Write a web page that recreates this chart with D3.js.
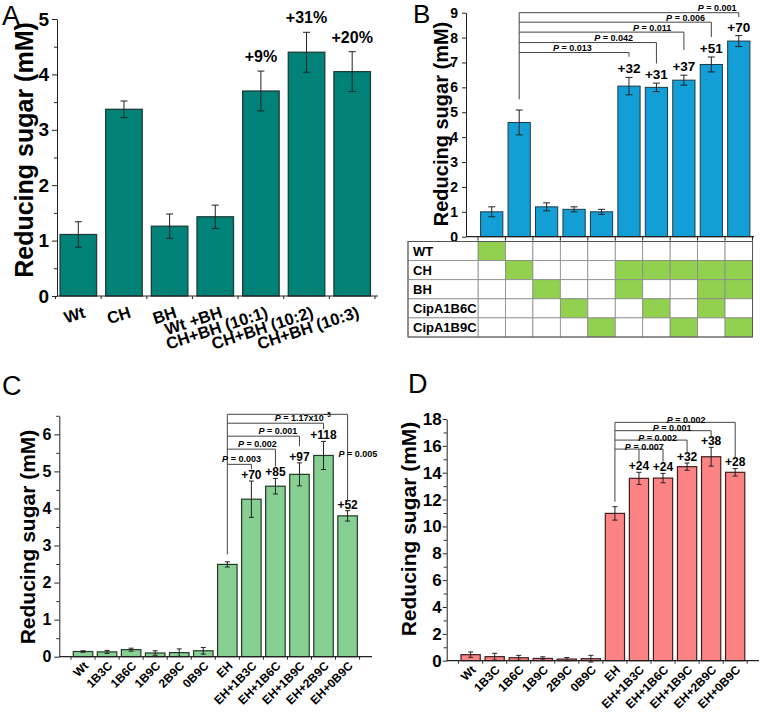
<!DOCTYPE html>
<html><head><meta charset="utf-8">
<script src="https://cdn.jsdelivr.net/npm/d3@7"></script>
<style>body{margin:0;background:#fff} svg{display:block} text{font-family:"Liberation Sans",Arial,sans-serif}</style>
</head><body><svg id="c" width="762" height="713"></svg>
<script>
// ---------- DATA ----------
const catsA = ["Wt","CH","BH","Wt +BH","CH+BH (10:1)","CH+BH (10:2)","CH+BH (10:3)"];
const valsA = [1.11,3.37,1.26,1.43,3.70,4.40,4.05];
const errA  = [0.23,0.15,0.22,0.21,0.36,0.36,0.36];
const pctA  = ["","","","","+9%","+31%","+20%"];
const ticksA = [0,1,2,3,4,5];

const catsB = ["1","2","3","4","5","6","7","8","9","10"];
const valsB = [1.00,4.59,1.20,1.10,1.00,6.05,6.00,6.29,6.92,7.86];
const errB  = [0.20,0.50,0.16,0.10,0.10,0.35,0.17,0.20,0.30,0.22];
const incB  = ["","","","","","+32","+31","+37","+51","+70"];
const ticksB = [0,1,2,3,4,5,6,7,8,9];
const rowsB = ["WT","CH","BH","CipA1B6C","CipA1B9C"];
const tableB = [
  [1,0,0,0,0,0,0,0,0,0],
  [0,1,0,0,0,1,1,1,1,1],
  [0,0,1,0,0,1,0,0,1,1],
  [0,0,0,1,0,0,1,0,1,0],
  [0,0,0,0,1,0,0,1,0,1]
];
const pB = ["0.013","0.042","0.011","0.006","0.001"];

const catsC = ["Wt","1B3C","1B6C","1B9C","2B9C","0B9C","EH","EH+1B3C","EH+1B6C","EH+1B9C","EH+2B9C","EH+0B9C"];
const valsC = [0.14,0.13,0.19,0.10,0.11,0.16,2.49,4.25,4.60,4.92,5.43,3.80];
const errC  = [0.02,0.04,0.04,0.06,0.10,0.09,0.07,0.49,0.21,0.31,0.38,0.14];
const incC  = ["","","","","","","","+70","+85","+97","+118","+52"];
const ticksC = [0,1,2,3,4,5,6];
const pC = ["0.003","0.002","0.001","1.17x10","0.005"];

const catsD = ["Wt","1B3C","1B6C","1B9C","2B9C","0B9C","EH","EH+1B3C","EH+1B6C","EH+1B9C","EH+2B9C","EH+0B9C"];
const valsD = [0.45,0.30,0.22,0.17,0.12,0.15,10.97,13.58,13.60,14.45,15.19,14.03];
const errD  = [0.20,0.25,0.18,0.12,0.12,0.25,0.50,0.45,0.35,0.27,0.70,0.28];
const incD  = ["","","","","","","","+24","+24","+32","+38","+28"];
const ticksD = [0,2,4,6,8,10,12,14,16,18];
const pD = ["0.007","0.002","0.001","0.002"];

// ---------- DRAW ----------
const svg = d3.select("#c");
const FONT = '"Liberation Sans",Arial,sans-serif';

function panel(p){
  const g = svg.append("g");
  const x = d3.scaleBand().domain(p.cats).range(p.xr).paddingInner(p.pi).paddingOuter(p.pi/2);
  const y = d3.scaleLinear().domain(p.yd).range(p.yr);
  const xc = i => x(p.cats[i]) + x.bandwidth()/2;
  g.selectAll("rect.bar").data(p.vals).join("rect")
    .attr("x",(d,i)=>x(p.cats[i])).attr("y",d=>y(d))
    .attr("width",x.bandwidth()).attr("height",d=>y(0)-y(d))
    .attr("fill",p.fill).attr("stroke",p.stroke).attr("stroke-width",p.sw);
  const eb = g.append("g").attr("stroke",p.ecol||"#222").attr("stroke-width",p.ew||1).attr("fill","none");
  p.vals.forEach((v,i)=>{
    const e = p.errs[i], cx = xc(i), cw = p.cap;
    eb.append("path").attr("d",`M${cx},${y(v+e)}V${y(v-e)}M${cx-cw},${y(v+e)}H${cx+cw}M${cx-cw},${y(v-e)}H${cx+cw}`);
  });
  const ax = d3.axisLeft(y).tickValues(p.ticks).tickSize(p.tl).tickSizeOuter(0).tickPadding(p.tp).tickFormat(d3.format("d"));
  const ga = g.append("g").attr("transform",`translate(${p.ax},0)`).call(ax);
  ga.selectAll("text").attr("font-size",p.tf).attr("font-weight","bold").attr("fill","#000").attr("font-family",FONT);
  ga.selectAll("path,line").attr("stroke","#222");
  if(p.minor){
    const am = d3.axisLeft(y).tickValues(p.minor).tickSize(3).tickFormat("");
    const gm = g.append("g").attr("transform",`translate(${p.ax},0)`).call(am);
    gm.select(".domain").remove();
    gm.selectAll("line").attr("stroke","#222");
  }
  g.append("line").attr("x1",p.ax).attr("x2",p.xEnd).attr("y1",y(0)).attr("y2",y(0)).attr("stroke","#222").attr("stroke-width",1.2);
  const half = x.step()*p.pi/2;
  p.cats.forEach((c,i)=>{
    const bx = x(c) - half;
    g.append("line").attr("x1",bx).attr("x2",bx).attr("y1",y(0)).attr("y2",y(0)+p.xtl).attr("stroke","#222");
  });
  { const bx = x(p.cats[p.cats.length-1]) + x.bandwidth() + half;
    g.append("line").attr("x1",bx).attr("x2",bx).attr("y1",y(0)).attr("y2",y(0)+p.xtl).attr("stroke","#222"); }
  g.append("text").attr("transform",`translate(${p.titleX},${p.titleY}) rotate(-90)`)
    .attr("text-anchor","middle").attr("font-size",p.titleF).attr("font-weight","bold").text("Reducing sugar (mM)");
  g.append("text").attr("x",p.lx).attr("y",p.ly).attr("font-size",p.lf).text(p.letter);
  if(p.xlab){
    p.cats.forEach((c,i)=>{
      g.append("text").attr("transform",`translate(${xc(i)+p.xlab.dx},${y(0)+p.xlab.dy}) rotate(${p.xlab.rot})`)
        .attr("text-anchor","end").attr("font-size",p.xlab.f).attr("font-weight","bold").text(c);
    });
  }
  p.inc.forEach((t,i)=>{
    if(!t) return;
    g.append("text").attr("x",xc(i)+(p.incDx||0)).attr("y",y(p.vals[i]+p.errs[i])-p.incOff)
      .attr("text-anchor","middle").attr("font-size",p.incF).attr("font-weight","bold").text(t);
  });
  return {g,x,y,xc};
}

function pText(g,xp,yp,val,fs,sup){
  const t = g.append("text").attr("x",xp).attr("y",yp).attr("text-anchor","middle")
    .attr("font-size",fs).attr("font-weight","bold");
  t.append("tspan").attr("font-style","italic").text("P");
  t.append("tspan").text(" = "+val);
  if(sup) t.append("tspan").attr("dy",-4).attr("font-size",fs*0.7).text(sup);
  return t;
}

function brackets(P, from, fromLow, list, fs, tOff){
  const {g,x,y,xc} = P;
  const st = x.step();
  const top = d3.max(list, b=>b.level);
  const bg = g.append("g").attr("stroke","#444").attr("stroke-width",1).attr("fill","none");
  bg.append("line").attr("x1",xc(from)).attr("x2",xc(from)).attr("y1",y(fromLow)).attr("y2",y(top));
  list.forEach(b=>{
    const last = b.to[b.to.length-1];
    bg.append("line").attr("x1",xc(from)).attr("x2",xc(last)).attr("y1",y(b.level)).attr("y2",y(b.level));
    b.to.forEach(t=>{
      bg.append("line").attr("x1",xc(t)).attr("x2",xc(t)).attr("y1",y(b.level)).attr("y2",y(b.end));
    });
    const tx = xc(0) + b.tx*st;
    const ty = b.ty!==undefined ? y(b.ty) : y(b.level)-tOff;
    pText(g, tx, ty, b.p, fs, b.sup);
  });
}

// Panel A
const PA = panel({cats:catsA, vals:valsA, errs:errA, inc:pctA, xr:[55.5,375], pi:0.2, yd:[0,5], yr:[296,19],
  fill:"#008278", stroke:"#1d3d3a", sw:1.3, cap:3.5, ax:57, xEnd:378, ticks:ticksA, minor:[0.5,1.5,2.5,3.5,4.5],
  tl:5, tp:3, tf:19, xtl:3, titleX:33, titleY:150, titleF:25, lx:2, ly:25, lf:27, letter:"A",
  xlab:{dx:8, dy:21, rot:-18, f:16.5}, incOff:9, incF:16});

// Panel B
const PB = panel({cats:catsB, vals:valsB, errs:errB, inc:incB, xr:[478,752.5], pi:0.19, yd:[0,9], yr:[236.7,12.7],
  fill:"#139fd6", stroke:"#1b3a48", sw:1, cap:3.5, ax:466, xEnd:754, ticks:ticksB, minor:null,
  tl:4, tp:4, tf:14, xtl:4, titleX:448, titleY:124, titleF:20, lx:413, ly:23, lf:26, letter:"B",
  xlab:null, incOff:4, incF:13.5});
{
  const {g,x} = PB;
  const half = x.step()*0.19/2;
  const colX = catsB.map(c=>x(c)-half);
  const right = x(catsB[9]) + x.bandwidth() + half;
  const top = 241.5, rh = 19.1, left = 408;
  tableB.forEach((row,r)=>{
    row.forEach((v,ci)=>{
      const x0 = colX[ci], x1 = ci<9 ? colX[ci+1] : right;
      g.append("rect").attr("x",x0).attr("y",top+r*rh).attr("width",x1-x0).attr("height",rh)
        .attr("fill", v ? "#92d050" : "#fff").attr("stroke","#8a8a8a").attr("stroke-width",0.8);
    });
    g.append("rect").attr("x",left).attr("y",top+r*rh).attr("width",colX[0]-left).attr("height",rh)
      .attr("fill","#fff").attr("stroke","#8a8a8a").attr("stroke-width",0.8);
    g.append("text").attr("x",left+5).attr("y",top+r*rh+rh/2+4.5).attr("font-size",13).attr("font-weight","bold").text(rowsB[r]);
  });
  g.append("rect").attr("x",left).attr("y",top).attr("width",right-left).attr("height",rh*5)
    .attr("fill","none").attr("stroke","#555").attr("stroke-width",1);
}
brackets(PB, 1, 5.52, [
  {to:[5], level:7.4,  end:7.23, p:pB[0], tx:2.94},
  {to:[6], level:7.8,  end:6.96, p:pB[1], tx:4.44},
  {to:[7], level:8.22, end:7.5,  p:pB[2], tx:5.84},
  {to:[8], level:8.62, end:8.02, p:pB[3], tx:7.06},
  {to:[9], level:9.0,  end:8.82, p:pB[4], tx:8.21}
], 9, 1.5);

// Panel C
const PC = panel({cats:catsC, vals:valsC, errs:errC, inc:incC, xr:[71,359.6], pi:0.19, yd:[0,6.5], yr:[656.7,415.8],
  fill:"#88cf94", stroke:"#1f3a23", sw:1.2, cap:2.5, ax:59.3, xEnd:372, ticks:ticksC, minor:[0.5,1.5,2.5,3.5,4.5,5.5,6.5],
  tl:5, tp:3, tf:16, xtl:3, titleX:35, titleY:537, titleF:21, lx:2, ly:395, lf:27, letter:"C",
  xlab:{dx:6, dy:10, rot:-45, f:12}, incOff:2, incF:12});
brackets(PC, 6, 2.76, [
  {to:[7],  level:5.19, end:5.06, p:pC[0], tx:6.59},
  {to:[8],  level:5.6,  end:5.13, p:pC[1], tx:7.25},
  {to:[9],  level:5.95, end:5.68, p:pC[2], tx:8.1},
  {to:[10], level:6.3,  end:6.14, p:pC[3], tx:9.14, sup:"−5"},
  {to:[11], level:6.54, end:4.18, p:pC[4], tx:11.43, ty:5.4}
], 9, 2.5);

// Panel D
const PD = panel({cats:catsD, vals:valsD, errs:errD, inc:incD, xr:[458.6,747.2], pi:0.2, yd:[0,18], yr:[660.7,419],
  fill:"#fc8383", stroke:"#3e2020", sw:1.2, cap:2.5, ax:446.7, xEnd:759, ticks:ticksD, minor:[1,3,5,7,9,11,13,15,17],
  tl:4, tp:1, tf:17, xtl:3, titleX:416, titleY:529, titleF:21, lx:408, ly:393, lf:27, letter:"D",
  xlab:{dx:6, dy:10, rot:-45, f:12}, incOff:2.5, incF:12});
brackets(PD, 6, 11.84, [
  {to:[7,8], level:15.76, end:14.82, p:pD[0], tx:7.22},
  {to:[9],   level:16.43, end:15.56, p:pD[1], tx:7.78},
  {to:[10],  level:17.13, end:16.68, p:pD[2], tx:8.38},
  {to:[11],  level:17.75, end:15.14, p:pD[3], tx:8.96}
], 9, -0.5);
</script></body></html>
